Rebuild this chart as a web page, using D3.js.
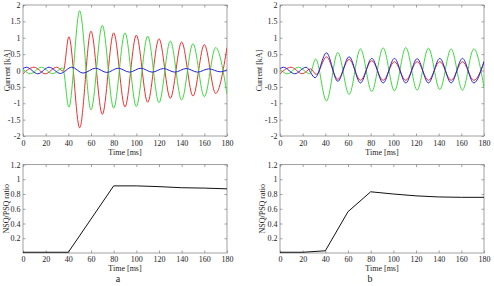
<!DOCTYPE html>
<html><head><meta charset="utf-8">
<script src="https://cdn.jsdelivr.net/npm/d3@7"></script>
<style>
html,body{margin:0;padding:0;background:#fff;}
svg{display:block;font-family:"Liberation Serif","Times New Roman",serif;}
</style></head>
<body><svg id="c" width="494" height="286"></svg>
<script>
// ---- data ----
const timeTicks = [0,20,40,60,80,100,120,140,160,180];
const currentTicks = [-2,-1.5,-1,-0.5,0,0.5,1,1.5,2];
const ratioTicks = [0.2,0.4,0.6,0.8,1,1.2];

// Phase currents, panel a: [time ms, current kA] at extrema
const redA = [[0,-0.1],[9.7,0.1],[19.7,-0.1],[29.7,0.1],[35.5,-0.02],[40.5,1.03],[50,-1.75],[60,1.2],[70,-1.34],[80,1.15],[90,-1.11],[100,1.08],[110,-0.97],[120,0.97],[130,-0.85],[140,0.87],[150,-0.78],[160,0.79],[170,-0.7],[180,0.7]];
const greenA = [[0,0.04],[6.3,-0.1],[16.3,0.1],[26.3,-0.1],[35,0.08],[40.5,-1.12],[50,1.82],[60,-1.2],[70,1.38],[80,-1.15],[90,1.15],[100,-1.1],[110,1.05],[120,-0.98],[130,0.9],[140,-0.9],[150,0.82],[160,-0.8],[170,0.7],[180,-0.72]];
const blueA = [[0,0.06],[3,0.1],[13,-0.1],[23,0.1],[33,-0.09],[43,0.1],[53,-0.08],[64,0.07],[74,-0.06],[84,0.07],[94,-0.05],[104,0.07],[114,-0.05],[124,0.06],[134,-0.05],[144,0.06],[154,-0.05],[164,0.05],[174,-0.04],[180,0.02]];

// Phase currents, panel b
const redB = [[0,-0.1],[9.7,0.1],[19.7,-0.1],[27,0.05],[32,-0.12],[41,0.42],[51,-0.27],[61,0.34],[71,-0.3],[81,0.3],[91,-0.3],[101,0.27],[111,-0.3],[121,0.27],[131,-0.3],[141,0.27],[151,-0.3],[161,0.27],[171,-0.3],[180,0.25]];
const greenB = [[0,0.04],[6.3,-0.1],[16.3,0.1],[26.3,-0.1],[31.5,0.35],[41,-0.93],[51,0.55],[61,-0.73],[71,0.66],[81,-0.64],[91,0.69],[101,-0.62],[111,0.7],[121,-0.6],[131,0.68],[141,-0.58],[151,0.66],[161,-0.6],[171,0.66],[180,-0.52]];
const blueB = [[0,0.06],[3,0.1],[13,-0.1],[23,0.1],[31,-0.22],[41,0.54],[51,-0.33],[61,0.42],[71,-0.38],[81,0.37],[91,-0.38],[101,0.37],[111,-0.38],[121,0.36],[131,-0.38],[141,0.37],[151,-0.38],[161,0.37],[171,-0.38],[180,0.28]];

// NSQ/PSQ ratio
const ratioTimes = [0,20,40,60,80,100,120,140,160,180];
const ratioA = [0.01,0.01,0.01,0.46,0.91,0.91,0.90,0.885,0.88,0.87];
const ratioB = [0.01,0.01,0.03,0.56,0.83,0.80,0.775,0.76,0.755,0.755];

const panelLabels = ["a","b"];
const colors = {red:"#e8322f", green:"#3fd83f", blue:"#2424d8"};

// ---- drawing ----
const svg = d3.select("#c");
const FS = 8;
const frameCol = "#8a8a8a";
const textCol = "#222";

function panel(opts){
  const {x0,x1,y0,y1,ydom,yticks,ylabel,ylabelX,series,tickPad,titleOff} = opts;
  const xs = d3.scaleLinear().domain([0,180]).range([x0,x1]);
  const ys = d3.scaleLinear().domain(ydom).range([y1,y0]);
  const g = svg.append("g");
  g.append("rect").attr("x",x0).attr("y",y0).attr("width",x1-x0).attr("height",y1-y0)
    .attr("fill","none").attr("stroke",frameCol).attr("stroke-width",0.8);
  const style = sel => {
    sel.select(".domain").remove();
    sel.selectAll("line").attr("stroke",frameCol).attr("stroke-width",0.8);
    sel.selectAll("text").attr("fill",textCol).style("font-size",FS+"px").style("font-family","Liberation Serif");
  };
  g.append("g").attr("transform",`translate(0,${y1})`)
    .call(d3.axisBottom(xs).tickValues(timeTicks).tickSize(-2.5).tickPadding(tickPad).tickFormat(d3.format("d"))).call(style);
  g.append("g").attr("transform",`translate(0,${y0})`)
    .call(d3.axisTop(xs).tickValues(timeTicks).tickSize(-2.5).tickFormat("")).call(style);
  g.append("g").attr("transform",`translate(${x0},0)`)
    .call(d3.axisLeft(ys).tickValues(yticks).tickSize(-2.5).tickPadding(2.5).tickFormat(d=>String(d))).call(style);
  g.append("g").attr("transform",`translate(${x1},0)`)
    .call(d3.axisRight(ys).tickValues(yticks).tickSize(-2.5).tickFormat("")).call(style);
  g.append("text").attr("x",(x0+x1)/2).attr("y",y1+titleOff).attr("text-anchor","middle")
    .attr("fill",textCol).style("font-size",FS+"px").text("Time [ms]");
  g.append("text").attr("transform",`translate(${ylabelX},${(y0+y1)/2}) rotate(-90)`)
    .attr("text-anchor","middle").attr("dy","0.35em")
    .attr("fill",textCol).style("font-size",FS+"px").text(ylabel);
  const clip = "clip"+Math.round(x0)+"_"+Math.round(y0);
  g.append("clipPath").attr("id",clip).append("rect").attr("x",x0).attr("y",y0).attr("width",x1-x0).attr("height",y1-y0);
  series.forEach(s=>{
    const line = d3.line().x(d=>xs(d[0])).y(d=>ys(d[1])).curve(s.curve||d3.curveMonotoneX);
    g.append("path").datum(s.data).attr("d",line).attr("fill","none")
      .attr("stroke",s.color).attr("stroke-width",s.width||1).attr("clip-path",`url(#${clip})`);
  });
}

const colL = {x0:23,x1:227}, colR = {x0:280,x1:484};
const rowT = {y0:5,y1:136,tickPad:4,titleOff:19}, rowB = {y0:164.5,y1:253,tickPad:3,titleOff:17.5};

panel({...colL,...rowT,ydom:[-2,2],yticks:currentTicks,ylabel:"Current [kA]",ylabelX:7,
  series:[{data:redA,color:colors.red},{data:greenA,color:colors.green},{data:blueA,color:colors.blue}]});
panel({...colR,...rowT,ydom:[-2,2],yticks:currentTicks,ylabel:"Current [kA]",ylabelX:259,
  series:[{data:greenB,color:colors.green},{data:redB,color:colors.red},{data:blueB,color:colors.blue}]});
panel({...colL,...rowB,ydom:[0,1.2],yticks:ratioTicks,ylabel:"NSQ/PSQ ratio",ylabelX:6,
  series:[{data:ratioTimes.map((t,i)=>[t,ratioA[i]]),color:"#111",curve:d3.curveLinear,width:1}]});
panel({...colR,...rowB,ydom:[0,1.2],yticks:ratioTicks,ylabel:"NSQ/PSQ ratio",ylabelX:262,
  series:[{data:ratioTimes.map((t,i)=>[t,ratioB[i]]),color:"#111",curve:d3.curveLinear,width:1}]});

svg.append("text").attr("x",(colL.x0+colL.x1)/2-7).attr("y",282).attr("text-anchor","middle")
  .attr("fill",textCol).style("font-size","10px").text(panelLabels[0]);
svg.append("text").attr("x",(colR.x0+colR.x1)/2-12).attr("y",282).attr("text-anchor","middle")
  .attr("fill",textCol).style("font-size","10px").text(panelLabels[1]);
</script></body></html>
